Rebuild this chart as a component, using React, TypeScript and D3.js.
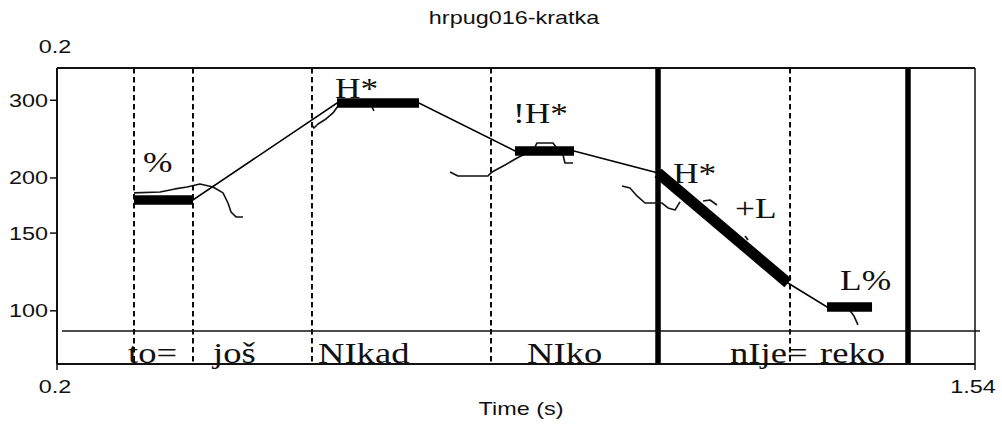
import React from "react";
import * as d3 from "d3";

// ---- data ----
const chartTitle = "hrpug016-kratka";
const xAxisTitle = "Time (s)";
const timeDomain = [0.2, 1.54];
const hzDomain = [90, 355];
const yTicks = [100, 150, 200, 300];
const xEndTicks = [0.2, 1.54];

// interval boundaries (s)
const dashedBoundaries = [0.3124, 0.3985, 0.5722, 0.8335, 1.27];
const solidBoundaries = [1.0773, 1.4422];

// stylized contour (even-odd pairs are tonal targets drawn thick)
const stylT = [0.3124, 0.3985, 0.6087, 0.7284, 0.8685, 0.9547, 1.0773, 1.267, 1.324, 1.3897];
const stylHz = [178.3, 178.3, 295.8, 295.8, 230.3, 230.3, 205.3, 115.6, 102.0, 102.0];

// raw f0 fragments [time, Hz]
const rawA = [[0.3124, 185.0], [0.3504, 185.9], [0.3722, 188.9], [0.3898, 190.8], [0.4087, 193.9], [0.4277, 190.8], [0.4423, 185.0], [0.4496, 175.5], [0.454, 167.5], [0.4613, 163.2], [0.4715, 163.2]];
const rawB = [[0.5722, 263.7], [0.5751, 259.6], [0.581, 265.1], [0.5927, 272.1], [0.6029, 280.8], [0.6102, 291.2]];
const rawB2 = [[0.6598, 289.7], [0.6627, 283.7]];
const rawC = [[0.7737, 206.4], [0.7853, 202.1], [0.8291, 202.1], [0.835, 206.4], [0.854, 214.0], [0.8715, 222.0], [0.8861, 227.9]];
const rawC2 = [[0.8977, 235.1], [0.9007, 240.1], [0.924, 240.1], [0.9284, 235.1]];
const rawC3 = [[0.9386, 225.5], [0.9415, 216.3], [0.9532, 216.3]];
const rawD = [[1.0247, 191.8], [1.0364, 189.8], [1.0466, 182.1], [1.0583, 175.5], [1.0831, 175.5], [1.0919, 171.0], [1.1021, 169.2], [1.1094, 176.5]];
const rawD2 = [[1.143, 177.4], [1.1532, 178.3], [1.1634, 173.7]];
const rawD3 = [[1.2043, 147.8], [1.2087, 144.7]];
const rawE = [[1.3546, 101.5], [1.3634, 97.3], [1.3692, 92.9]];
const rawSegments = [rawA, rawB, rawB2, rawC, rawC2, rawC3, rawD, rawD2, rawD3, rawE];

// word tier
const tierWords = ["to=", "još", "NIkad", "NIko", "nIje=", "reko"];
const tierWordTimes = [0.3036, 0.4277, 0.581, 0.8861, 1.1824, 1.3138];

// tone labels
const toneLabels = ["%", "H*", "!H*", "H*", "+L", "L%"];
const toneTimes = [0.3255, 0.6058, 0.8656, 1.0992, 1.1897, 1.343];
const toneHz = [206.4, 303.6, 266.5, 194.9, 162.3, 111.5];

// ---- layout ----
const W = 1002;
const H = 428;
const left = 57;
const right = 975;
const top = 68;
const tierTop = 331;
const bottom = 364;

const sans = "'Liberation Sans', Arial, Helvetica, sans-serif";
const serif = "'Liberation Serif', 'Times New Roman', Times, serif";

export default function App() {
  const x = d3.scaleLinear().domain(timeDomain).range([left, right]);
  const y = d3.scaleLog().domain(hzDomain).range([tierTop, top]);

  const line = d3
    .line<number[]>()
    .x((d) => x(d[0]))
    .y((d) => y(d[1]));

  const styl = stylT.map((t, i) => [t, stylHz[i]]);
  const thickPairs: number[][][] = [];
  for (let i = 0; i + 1 < styl.length; i += 2) thickPairs.push([styl[i], styl[i + 1]]);

  const sansScale = 1.3;
  const serifScale = 1.22;

  return (
    <svg
      width={W}
      height={H}
      viewBox={`0 0 ${W} ${H}`}
      style={{ position: "absolute", left: 0, top: 0, background: "#fff", display: "block" }}
    >
      <rect x={0} y={0} width={W} height={H} fill="#fff" />
      {/* title */}
      <text
        transform={`translate(514,24) scale(${sansScale},1)`}
        textAnchor="middle"
        fontFamily={sans}
        fontSize={18}
        fill="#111"
      >
        {chartTitle}
      </text>
      {/* top-left 0.2 */}
      <text
        transform={`translate(${x(timeDomain[0]) - 2},53) scale(${sansScale},1)`}
        textAnchor="middle"
        fontFamily={sans}
        fontSize={18}
        fill="#111"
      >
        {String(timeDomain[0])}
      </text>

      {/* boundaries */}
      {dashedBoundaries.map((t, i) => (
        <line
          key={"db" + i}
          x1={x(t)}
          x2={x(t)}
          y1={top}
          y2={bottom}
          stroke="#000"
          strokeWidth={1.9}
          strokeDasharray="5.5,3.5"
        />
      ))}
      {solidBoundaries.map((t, i) => (
        <line key={"sb" + i} x1={x(t)} x2={x(t)} y1={top} y2={bottom} stroke="#000" strokeWidth={5.5} />
      ))}

      {/* frame */}
      <line x1={left} x2={right} y1={top} y2={top} stroke="#111" strokeWidth={1.8} />
      <line x1={right} x2={right} y1={top} y2={bottom} stroke="#111" strokeWidth={1.5} />
      <line x1={left} x2={left} y1={top} y2={bottom} stroke="#111" strokeWidth={2} />
      <line x1={left} x2={right} y1={bottom} y2={bottom} stroke="#111" strokeWidth={1.8} />
      <line x1={left + 5} x2={right + 5} y1={tierTop} y2={tierTop} stroke="#111" strokeWidth={1.3} />

      {/* y ticks */}
      {yTicks.map((v) => (
        <g key={"yt" + v}>
          <line x1={left - 7} x2={left} y1={y(v)} y2={y(v)} stroke="#111" strokeWidth={1.5} />
          <text
            transform={`translate(48,${y(v) + 6.5}) scale(${sansScale},1)`}
            textAnchor="end"
            fontFamily={sans}
            fontSize={18}
            fill="#111"
          >
            {v}
          </text>
        </g>
      ))}

      {/* x end ticks */}
      {xEndTicks.map((v) => (
        <g key={"xt" + v}>
          <line x1={x(v)} x2={x(v)} y1={bottom} y2={bottom + 6} stroke="#111" strokeWidth={1.5} />
          <text
            transform={`translate(${x(v) - 2},393) scale(${sansScale},1)`}
            textAnchor="middle"
            fontFamily={sans}
            fontSize={18}
            fill="#111"
          >
            {String(v)}
          </text>
        </g>
      ))}
      <text
        transform={`translate(521,415) scale(${sansScale},1)`}
        textAnchor="middle"
        fontFamily={sans}
        fontSize={18}
        fill="#111"
      >
        {xAxisTitle}
      </text>

      {/* raw f0 */}
      {rawSegments.map((seg, i) => (
        <path key={"raw" + i} d={line(seg) || ""} fill="none" stroke="#111" strokeWidth={1.6} strokeLinejoin="round" />
      ))}

      {/* stylized contour */}
      <path d={line(styl) || ""} fill="none" stroke="#000" strokeWidth={1.6} />
      {thickPairs.map((p, i) => (
        <path
          key={"tp" + i}
          d={line(p) || ""}
          fill="none"
          stroke="#000"
          strokeWidth={p[0][1] === p[1][1] ? 9.5 : 11}
          strokeLinecap="butt"
        />
      ))}

      {/* tone labels */}
      {toneLabels.map((s, i) => (
        <text
          key={"tone" + i}
          transform={`translate(${x(toneTimes[i])},${y(toneHz[i])}) scale(${serifScale},1)`}
          fontFamily={serif}
          fontSize={29}
          fill="#111"
        >
          {s}
        </text>
      ))}

      {/* word tier */}
      {tierWords.map((s, i) => (
        <text
          key={"w" + i}
          transform={`translate(${x(tierWordTimes[i])},${bottom - 1}) scale(${serifScale},1)`}
          fontFamily={serif}
          fontSize={30}
          fill="#111"
        >
          {s}
        </text>
      ))}
    </svg>
  );
}
